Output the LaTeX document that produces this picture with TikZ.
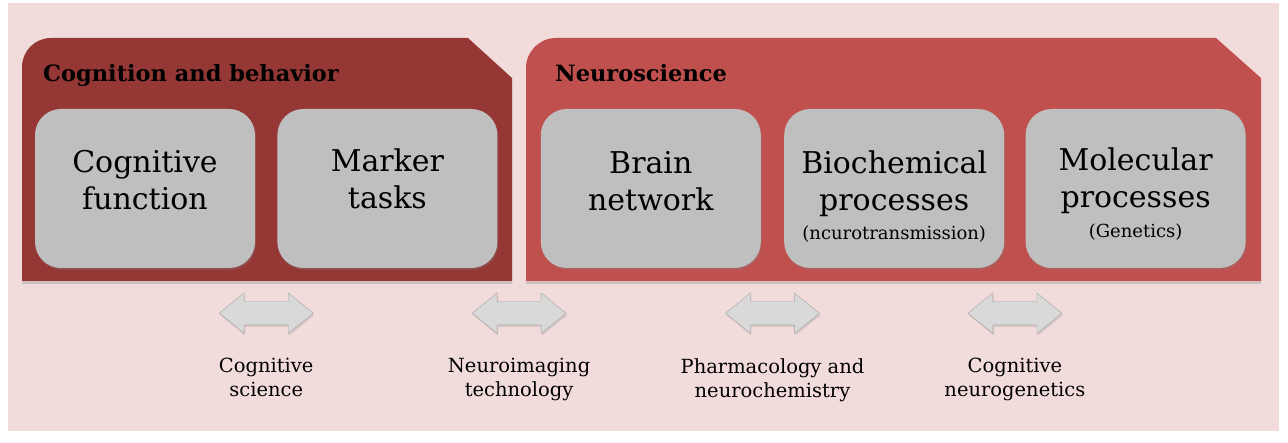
\documentclass[tikz,border=0pt]{standalone}
\usepackage{fontspec}
\setmainfont{DejaVu Serif}
\usetikzlibrary{positioning,calc,shapes.arrows,shadows}
\definecolor{bgpink}{HTML}{F2DCDB}
\definecolor{cogred}{HTML}{953735}
\definecolor{neured}{HTML}{C0504D}
\definecolor{boxgrey}{HTML}{BFBFBF}
\definecolor{arrowfill}{HTML}{D9D9D9}
\definecolor{arrowline}{HTML}{A6A6A6}
\newcommand{\parenfont}{\fontsize{18}{22}\selectfont}
\tikzset{
    greybox/.style={
        rectangle,
        rounded corners=26pt,
        fill=boxgrey,
        minimum width=220pt,
        minimum height=159pt,
        inner sep=0pt,
        drop shadow={shadow xshift=1pt, shadow yshift=-2pt, opacity=0.3},
    },
    boxtext/.style={
        align=center,
        inner sep=0pt,
        anchor=north,
        font=\fontsize{30}{37}\selectfont,
    },
    title/.style={
        inner sep=0pt,
        anchor=base west,
        font=\fontsize{22.5}{26}\selectfont\bfseries,
    },
    twoway/.style={
        double arrow,
        draw=arrowline,
        fill=arrowfill,
        minimum height=94pt,
        inner xsep=0pt,
        inner ysep=11.5pt,
        double arrow head extend=8.5pt,
        double arrow tip angle=78,
        drop shadow={shadow xshift=1pt, shadow yshift=-2pt, opacity=0.25},
    },
    field/.style={
        align=center,
        inner sep=0pt,
        anchor=north,
        font=\fontsize{19.5}{24}\selectfont,
    },
    group/.style={
        drop shadow={shadow xshift=0pt, shadow yshift=-3pt, opacity=0.3},
    },
}
\begin{document}
\begin{tikzpicture}[x=1pt,y=-1pt]
                \useasboundingbox (0,0) rectangle (1288,443);
                \fill[bgpink] (8,3) rectangle (1279,431);

                \fill[cogred, group] (22,281) -- (22,67) arc[start angle=180, end angle=90, radius=29pt]
                    -- (468,38) -- (512,78) -- (512,281) -- cycle;
                \fill[neured, group] (526,281) -- (526,68) arc[start angle=180, end angle=90, radius=30pt]
                    -- (1216,38) -- (1261,78) -- (1261,281) -- cycle;

                \node [title] (cogtitle) at (43,82) {Cognition and behavior};
                \node [title] (neutitle) at (555,82) {Neuroscience};

                \node [greybox] (cf) at (145,188.5) {};
                \node [greybox, right=22pt of cf] (mt) {};
                \node [greybox, right=43pt of mt] (bn) {};
                \node [greybox, right=23pt of bn] (bp) {};
                \node [greybox, right=21pt of bp] (mp) {};

                \node [boxtext] (cftext) at ($(cf.north)+(0,41)$) {Cognitive\\function};
                \node [boxtext] (mttext) at ($(mt.north)+(0,40)$) {Marker\\tasks};
                \node [boxtext] (bntext) at ($(bn.north)+(0,42)$) {Brain\\network};
                \node [boxtext] (bptext) at ($(bp.north)+(0,42)$) {Biochemical\\processes\\[-8pt]{\parenfont (ncurotransmission)}};
                \node [boxtext] (mptext) at ($(mp.north)+(0,39)$) {Molecular\\processes\\[-7pt]{\parenfont (Genetics)}};

                \node [twoway] (a1) at ($(cf.south east)!0.5!(mt.south west)+(0,45)$) {};
                \node [twoway] (a2) at ($(mt.south east)!0.5!(bn.south west)+(0,45)$) {};
                \node [twoway] (a3) at ($(bn.south east)!0.5!(bp.south west)+(0,45)$) {};
                \node [twoway] (a4) at ($(bp.south east)!0.5!(mp.south west)+(0,45)$) {};

                \node [field] (f1) at ($(a1)+(0,45)$) {Cognitive\\science};
                \node [field] (f2) at ($(a2)+(0,45)$) {Neuroimaging\\technology};
                \node [field] (f3) at ($(a3)+(0,45)$) {Pharmacology and\\neurochemistry};
                \node [field] (f4) at ($(a4)+(0,45)$) {Cognitive\\neurogenetics};

            \end{tikzpicture}
\end{document}
